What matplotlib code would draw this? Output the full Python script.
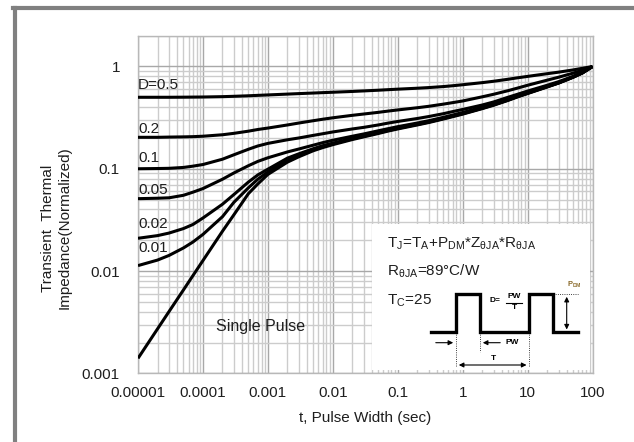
import matplotlib
matplotlib.use('Agg')
import matplotlib.pyplot as plt
from matplotlib import font_manager
from matplotlib.lines import Line2D
from matplotlib.patches import Rectangle
from matplotlib.ticker import FixedLocator, LogLocator, NullFormatter

names = {f.name for f in font_manager.fontManager.ttflist}
narrow = 'Liberation Sans Narrow' in names
plt.rcParams['font.family'] = ['Liberation Sans Narrow' if narrow else 'Liberation Sans', 'DejaVu Sans']
fs = 13 if narrow else 11

# pulse width (s)
t = [1e-5, 2e-5, 3e-5, 5e-5, 7e-5,
     1e-4, 2e-4, 3e-4, 5e-4, 7e-4,
     1e-3, 2e-3, 3e-3, 5e-3, 7e-3,
     1e-2, 2e-2, 3e-2, 5e-2, 7e-2,
     0.1, 0.2, 0.3, 0.5, 0.7,
     1, 2, 3, 5, 7,
     10, 20, 30, 50, 70,
     100]

# normalized transient thermal impedance
z_d05 = [.500, .500, .500, .501, .502,
         .503, .507, .511, .517, .522,
         .527, .537, .543, .550, .555,
         .560, .570, .577, .586, .593,
         .600, .613, .622, .636, .648,
         .663, .695, .717, .750, .775,
         .800, .850, .880, .925, .960,
         1.0]
z_d02 = [.203, .203, .204, .205, .206,
         .208, .215, .222, .233, .242,
         .250, .268, .280, .295, .305,
         .315, .333, .343, .356, .366,
         .376, .395, .408, .428, .443,
         .460, .505, .535, .580, .615,
         .655, .735, .785, .860, .920,
         1.0]
z_d01 = [.100, .1005, .101, .103, .106,
         .110, .124, .137, .155, .167,
         .177, .192, .200, .212, .220,
         .229, .245, .254, .268, .279,
         .290, .310, .324, .345, .362,
         .380, .420, .450, .500, .535,
         .575, .655, .710, .800, .880,
         1.0]
z_d005 = [.051, .0515, .052, .055, .059,
          .064, .079, .091, .107, .118,
          .128, .146, .156, .170, .180,
          .190, .208, .219, .235, .246,
          .258, .280, .295, .318, .335,
          .355, .400, .430, .478, .515,
          .555, .640, .695, .790, .870,
          1.0]
z_d002 = [.0209, .0222, .0235, .026, .0285,
          .033, .045, .056, .074, .087,
          .099, .127, .140, .157, .168,
          .178, .198, .210, .226, .238,
          .250, .273, .288, .311, .328,
          .348, .393, .424, .472, .510,
          .550, .636, .692, .787, .868,
          1.0]
z_d001 = [.0113, .0128, .0142, .0168, .0192,
          .0228, .034, .047, .065, .079,
          .093, .121, .136, .154, .165,
          .175, .196, .208, .224, .236,
          .248, .271, .286, .309, .326,
          .345, .390, .421, .469, .507,
          .547, .633, .690, .785, .866,
          1.0]
z_single = [.0014, .00272, .00401, .00652, .0090,
            .01265, .0245, .0355, .057, .071,
            .088, .116, .131, .150, .161,
            .172, .193, .205, .221, .233,
            .245, .268, .283, .306, .323,
            .342, .387, .418, .466, .504,
            .544, .630, .688, .783, .864,
            1.0]

curves = [z_d05, z_d02, z_d01, z_d005, z_d002, z_d001, z_single]
duty_labels = ['D=0.5', '0.2', '0.1', '0.05', '0.02', '0.01']
label_y = [0.66, 0.245, 0.127, 0.062, 0.0288, 0.0168]

xticks = [1e-5, 1e-4, 1e-3, 1e-2, 1e-1, 1, 10, 100]
xtick_labels = ['0.00001', '0.0001', '0.001', '0.01', '0.1', '1', '10', '100']
yticks = [0.001, 0.01, 0.1, 1]
ytick_labels = ['0.001', '0.01', '0.1', '1']

txt = '#1e1e1e'

fig = plt.figure(figsize=(6.34, 4.42), dpi=100)
ax = fig.add_axes([138/634, 1-373.3/442, 454.5/634, 337.6/442])
ax.set_xscale('log')
ax.set_yscale('log')
ax.set_xlim(1e-5, 100)
ax.set_ylim(0.001, 2)

ax.xaxis.set_major_locator(FixedLocator(xticks))
ax.set_xticklabels(xtick_labels)
ax.yaxis.set_major_locator(FixedLocator(yticks))
ax.set_yticklabels(ytick_labels)
ax.xaxis.set_minor_locator(LogLocator(base=10, subs=range(2, 10), numticks=20))
ax.yaxis.set_minor_locator(LogLocator(base=10, subs=range(2, 10), numticks=20))
ax.xaxis.set_minor_formatter(NullFormatter())
ax.yaxis.set_minor_formatter(NullFormatter())
ax.tick_params(which='both', length=0, labelsize=fs, colors=txt)
ax.tick_params(axis='y', pad=13)
ax.tick_params(axis='x', pad=9)

ax.grid(which='major', color='#a8a8a8', lw=1.0)
ax.grid(which='minor', color='#cccccc', lw=1.0)
ax.set_axisbelow(True)
for s in ax.spines.values():
    s.set_color('#b8b8b8')
    s.set_linewidth(1.0)

for z in curves:
    ax.plot(t, z, color='black', lw=2.2, solid_capstyle='butt', zorder=3)

for lab, y in zip(duty_labels, label_y):
    ax.text(1e-5, y, lab, fontsize=fs, ha='left', va='center', color=txt, zorder=4)

ax.text(1.6e-4, 0.0029, 'Single Pulse', fontsize=fs + 0.5, ha='left', va='center', color=txt)

ax.set_xlabel('t, Pulse Width (sec)', fontsize=fs, labelpad=8, color=txt)
fig.text(56/634, 1-228/442, 'Transient  Thermal\nImpedance(Normalized)', rotation=90,
         ha='center', va='center', fontsize=fs, color=txt, linespacing=1.25)

# inset box with formula and pulse diagram (pixel positions -> axes fraction)
def px(x, y):
    return ((x - 138) / 454.5, (373.3 - y) / 337.6)

x0, y0 = px(372, 370)
x1, y1 = px(590, 224)
ax.add_patch(Rectangle((x0, y0), x1 - x0, y1 - y0, transform=ax.transAxes,
                       facecolor='white', edgecolor='none', zorder=2.5))

ax.text(*px(387, 244), r'T$_\mathregular{J}$=T$_\mathregular{A}$+P$_\mathregular{DM}$*Z$_{\mathregular{\theta JA}}$*R$_{\mathregular{\theta JA}}$',
        transform=ax.transAxes, fontsize=fs, va='center', ha='left', color=txt, zorder=5)
ax.text(*px(387, 271), r'R$_{\mathregular{\theta JA}}$=89°C/W',
        transform=ax.transAxes, fontsize=fs, va='center', ha='left', color=txt, zorder=5)
ax.text(*px(387, 301), r'T$_\mathregular{C}$=25',
        transform=ax.transAxes, fontsize=fs, va='center', ha='left', color=txt, zorder=5)

wx = [431, 456, 456, 480, 480, 529.3, 529.3, 553.3, 553.3, 578.3]
wy = [332.3, 332.3, 294, 294, 332.3, 332.3, 294, 294, 332.3, 332.3]
pts = [px(a, b) for a, b in zip(wx, wy)]
ax.plot([p[0] for p in pts], [p[1] for p in pts], color='black', lw=2.4,
        transform=ax.transAxes, zorder=5, solid_joinstyle='miter')

for xa, yb in [(456, 367), (480, 352), (529.3, 367)]:
    p0, p1 = px(xa, 332.3), px(xa, yb)
    ax.plot([p0[0], p1[0]], [p0[1], p1[1]], color='black', lw=0.6, ls=':',
            transform=ax.transAxes, zorder=5)
p0, p1 = px(553.3, 294), px(578, 294)
ax.plot([p0[0], p1[0]], [p0[1], p1[1]], color='black', lw=0.6, ls=':',
        transform=ax.transAxes, zorder=5)

small = fs * 0.55
arr = dict(arrowstyle='-|>', color='black', lw=0.8, mutation_scale=7)
ax.annotate('', xy=px(456, 342.7), xytext=px(433, 342.7), xycoords='axes fraction',
            textcoords='axes fraction', arrowprops=arr, zorder=5)
ax.annotate('', xy=px(480, 342.7), xytext=px(503, 342.7), xycoords='axes fraction',
            textcoords='axes fraction', arrowprops=arr, zorder=5)
ax.text(*px(506, 343), 'PW', transform=ax.transAxes, fontsize=small, fontweight='bold',
        va='center', ha='left', zorder=5)
ax.annotate('', xy=px(529.3, 365), xytext=px(456, 365), xycoords='axes fraction',
            textcoords='axes fraction',
            arrowprops=dict(arrowstyle='<|-|>', color='black', lw=0.8, mutation_scale=7), zorder=5)
ax.text(*px(493, 358.5), 'T', transform=ax.transAxes, fontsize=small, fontweight='bold',
        va='center', ha='center', zorder=5)
ax.annotate('', xy=px(566.7, 294), xytext=px(566.7, 332.3), xycoords='axes fraction',
            textcoords='axes fraction',
            arrowprops=dict(arrowstyle='<|-|>', color='black', lw=0.8, mutation_scale=7), zorder=5)
ax.text(*px(574, 285), r'P$_\mathregular{DM}$', transform=ax.transAxes, fontsize=small * 0.9,
        fontweight='bold', va='center', ha='center', color='#8a6a2a', zorder=5)

ax.text(*px(490, 301), 'D=', transform=ax.transAxes, fontsize=small, fontweight='bold',
        va='center', ha='left', zorder=5)
ax.text(*px(514, 297), 'PW', transform=ax.transAxes, fontsize=small, fontweight='bold',
        va='center', ha='center', zorder=5)
ax.text(*px(514, 307.5), 'T', transform=ax.transAxes, fontsize=small, fontweight='bold',
        va='center', ha='center', zorder=5)
p0, p1 = px(506, 302.5), px(522, 302.5)
ax.plot([p0[0], p1[0]], [p0[1], p1[1]], color='black', lw=0.8, transform=ax.transAxes, zorder=5)

# gray frame at the left and top edges of the picture
fig.add_artist(Line2D([15/634, 15/634], [0, 1-8/442], color='#808080', lw=3))
fig.add_artist(Line2D([13/634, 1], [1-8/442, 1-8/442], color='#808080', lw=3))

fig.savefig('out.png', dpi=100)
